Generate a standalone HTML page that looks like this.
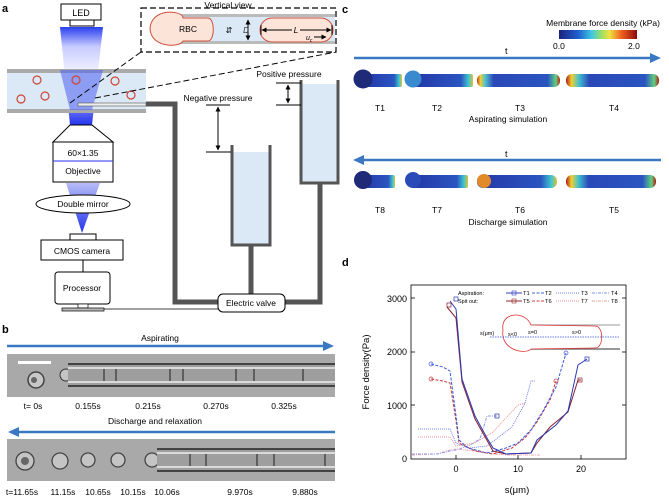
<!DOCTYPE html>
<html><head><meta charset="utf-8"><style>
html,body{margin:0;padding:0;background:#fff}
svg{display:block;font-family:"Liberation Sans",sans-serif}
</style></head><body>
<svg width="669" height="497" viewBox="0 0 669 497" xmlns="http://www.w3.org/2000/svg">
<defs>
<linearGradient id="beam" x1="0" y1="0" x2="0" y2="1">
<stop offset="0" stop-color="#2a3ff0"/><stop offset="0.2" stop-color="#c8ccff"/><stop offset="0.45" stop-color="#f0f0ff"/><stop offset="0.75" stop-color="#8f95f5"/><stop offset="1" stop-color="#2233ee"/></linearGradient>
<linearGradient id="beam2" x1="0" y1="0" x2="0" y2="1">
<stop offset="0" stop-color="#b8bcf8"/><stop offset="1" stop-color="#2233ee"/></linearGradient>
<linearGradient id="cbar" x1="0" y1="0" x2="1" y2="0">
<stop offset="0" stop-color="#1a237e"/><stop offset="0.25" stop-color="#2060d0"/><stop offset="0.42" stop-color="#40c8e0"/><stop offset="0.55" stop-color="#a0e060"/><stop offset="0.65" stop-color="#f0e040"/><stop offset="0.8" stop-color="#f06020"/><stop offset="1" stop-color="#8b0a0a"/></linearGradient>
<linearGradient id="tubeA" x1="0" y1="0" x2="1" y2="0">
<stop offset="0" stop-color="#2336a8"/><stop offset="0.8" stop-color="#2a55c0"/><stop offset="0.93" stop-color="#40c8d0"/><stop offset="1" stop-color="#e0c030"/></linearGradient>
<linearGradient id="tubeB" x1="0" y1="0" x2="1" y2="0">
<stop offset="0" stop-color="#c03018"/><stop offset="0.04" stop-color="#f0d030"/><stop offset="0.1" stop-color="#50c0d0"/><stop offset="0.2" stop-color="#2a48b8"/><stop offset="0.85" stop-color="#2a55c0"/><stop offset="0.95" stop-color="#60d080"/><stop offset="1" stop-color="#c02010"/></linearGradient>
<linearGradient id="tubeC" x1="0" y1="0" x2="1" y2="0">
<stop offset="0" stop-color="#b01810"/><stop offset="0.06" stop-color="#f0d030"/><stop offset="0.14" stop-color="#40c0d0"/><stop offset="0.25" stop-color="#2a48b8"/><stop offset="0.85" stop-color="#2a55c0"/><stop offset="0.95" stop-color="#60d080"/><stop offset="1" stop-color="#b01810"/></linearGradient>
<marker id="ah" viewBox="0 0 10 10" refX="9" refY="5" markerWidth="5" markerHeight="5" orient="auto-start-reverse"><path d="M0,0L10,5L0,10z" fill="#000"/></marker>
</defs>

<!-- ========== panel a ========== -->
<text x="2" y="12" font-size="11" font-weight="bold">a</text>
<path d="M60,27 L103,27 L92,125 L70,125 Z" fill="url(#beam)"/>
<rect x="7" y="70" width="139" height="42" fill="#dbe8f5"/>
<rect x="7" y="69" width="139" height="4" fill="#aaa"/>
<rect x="7" y="109" width="139" height="4" fill="#aaa"/>
<path d="M60,70 L103,70 L92,110 L70,110 Z" fill="#4a5ef0" opacity="0.55"/>
<g fill="none" stroke="#d04535" stroke-width="1.2">
<circle cx="37" cy="80" r="4"/><circle cx="76" cy="80" r="4"/><circle cx="115" cy="81" r="4"/>
<circle cx="21" cy="99" r="4"/><circle cx="45" cy="96" r="4"/><circle cx="131" cy="95" r="4"/></g>
<rect x="78" y="103" width="68" height="3" fill="#eee" stroke="#555" stroke-width="0.6"/>
<rect x="61" y="4" width="40" height="16" fill="#fff" stroke="#000"/>
<text x="81" y="16" font-size="9" text-anchor="middle">LED</text>
<rect x="70" y="20" width="24" height="6" fill="#fff" stroke="#000"/>
<path d="M70,125 L92,125 L113,142 L53,142 Z" fill="#fff" stroke="#000"/>
<rect x="53" y="142" width="60" height="40" fill="#fff" stroke="#000"/>
<line x1="53" y1="161" x2="113" y2="161" stroke="#2233ee"/>
<text x="83" y="156" font-size="8.5" text-anchor="middle">60×1.35</text>
<text x="83" y="174" font-size="8.5" text-anchor="middle">Objective</text>
<path d="M66,183 L100,183 L82,233 Z" fill="url(#beam2)"/>
<ellipse cx="83" cy="204" rx="47" ry="9" fill="#fff" stroke="#000"/>
<text x="83" y="207" font-size="8.5" text-anchor="middle">Double mirror</text>
<rect x="70" y="234" width="26" height="6" fill="#fff" stroke="#000"/>
<rect x="41" y="240" width="82" height="20" fill="#fff" stroke="#000"/>
<text x="82" y="254" font-size="8.5" text-anchor="middle">CMOS camera</text>
<line x1="83" y1="260" x2="83" y2="272" stroke="#000"/>
<rect x="55" y="272" width="55" height="32" rx="3" fill="#fff" stroke="#000"/>
<text x="82" y="291" font-size="8.5" text-anchor="middle">Processor</text>
<rect x="78" y="304" width="10" height="4" fill="#fff" stroke="#000" stroke-width="0.7"/>
<rect x="62" y="308" width="42" height="3" fill="#bbb" stroke="#000" stroke-width="0.7"/>
<line x1="104" y1="309" x2="218" y2="309" stroke="#000" stroke-width="0.8"/>
<path d="M146,104 L175,104 L175,302 L218,302" fill="none" stroke="#555" stroke-width="5"/>
<path d="M285,302 L320,302 L320,183" fill="none" stroke="#555" stroke-width="5"/>
<line x1="251" y1="245" x2="251" y2="295" stroke="#555" stroke-width="5"/>
<rect x="218" y="294" width="67" height="18" rx="5" fill="#fff" stroke="#000"/>
<text x="251" y="306" font-size="8.5" text-anchor="middle">Electric valve</text>
<rect x="233" y="152" width="36" height="92" fill="#dbe8f5"/>
<path d="M232,145 L232,245 L270,245 L270,145" fill="none" stroke="#555" stroke-width="3"/>
<rect x="302" y="84" width="35" height="99" fill="#dbe8f5"/>
<path d="M301,80 L301,183 L338,183 L338,80" fill="none" stroke="#555" stroke-width="3"/>
<text x="218" y="101" font-size="8.5" text-anchor="middle">Negative pressure</text>
<line x1="206" y1="105" x2="230" y2="105" stroke="#000"/>
<line x1="206" y1="152" x2="231" y2="152" stroke="#000"/>
<line x1="218" y1="107" x2="218" y2="150" stroke="#000" marker-start="url(#ah)" marker-end="url(#ah)"/>
<text x="289" y="77" font-size="8.5" text-anchor="middle">Positive pressure</text>
<line x1="276" y1="83" x2="301" y2="83" stroke="#000"/>
<line x1="276" y1="105" x2="301" y2="105" stroke="#000"/>
<line x1="288" y1="85" x2="288" y2="103" stroke="#000" marker-start="url(#ah)" marker-end="url(#ah)"/>
<line x1="70" y1="103" x2="141" y2="52" stroke="#000" stroke-dasharray="6,3"/>
<line x1="95" y1="98" x2="336" y2="52" stroke="#000" stroke-dasharray="6,3"/>
<rect x="141" y="8" width="195" height="44" fill="#fff" stroke="#000" stroke-width="1.2" stroke-dasharray="6,3"/>
<text x="228" y="8" font-size="8.5" text-anchor="middle">Vertical view</text>
<rect x="178" y="17" width="157" height="24" fill="#dbe8f5"/>
<rect x="178" y="14" width="157" height="3" fill="#bbb"/>
<rect x="178" y="41" width="157" height="3" fill="#bbb"/>
<path d="M183,18 L183,17 C180,10 152,8 150,28 C150,48 180,48 183,41 L208,41 C215,41 215,18 208,18 Z" fill="#fde4d8" stroke="#d0503e" stroke-width="1"/>
<text x="188" y="32" font-size="8.5" text-anchor="middle">RBC</text>
<rect x="260" y="18" width="73" height="24" rx="12" fill="#fde4d8" stroke="#d0503e"/>
<text x="229" y="33" font-size="8" text-anchor="middle">⇵</text>
<line x1="248" y1="20" x2="248" y2="40" stroke="#000" marker-start="url(#ah)" marker-end="url(#ah)"/>
<text x="246" y="33" font-size="8" font-style="italic" text-anchor="middle" fill="#333">D</text>
<line x1="262" y1="30" x2="331" y2="30" stroke="#000" marker-start="url(#ah)" marker-end="url(#ah)"/>
<rect x="292" y="25" width="8" height="10" fill="#fde4d8"/>
<text x="296" y="33" font-size="8.5" font-style="italic" text-anchor="middle">L</text>
<text x="306" y="40" font-size="7" font-style="italic">u<tspan font-size="5" dy="2">c</tspan></text>
<line x1="314" y1="37" x2="326" y2="37" stroke="#000" marker-end="url(#ah)"/>
<line x1="261" y1="25" x2="261" y2="35" stroke="#000"/><line x1="332" y1="25" x2="332" y2="35" stroke="#000"/>

<!-- ========== panel b ========== -->
<text x="2" y="333" font-size="11" font-weight="bold">b</text>
<text x="160" y="341" font-size="8.5" text-anchor="middle">Aspirating</text>
<line x1="7" y1="346" x2="325" y2="346" stroke="#3a78c2" stroke-width="2.5"/>
<path d="M323,341 L334,346 L323,351 Z" fill="#3a78c2"/>
<rect x="7" y="354" width="328" height="43" fill="#a9a9a9"/>
<circle cx="36" cy="380" r="8" fill="#c8c8c8" stroke="#444" stroke-width="1.5"/>
<circle cx="34" cy="380" r="3" fill="#666"/>
<rect x="18" y="361" width="33" height="3" fill="#fff"/>
<circle cx="66" cy="375" r="6" fill="#c4c4c4" stroke="#333"/>
<rect x="68" y="364" width="267" height="22" fill="#9e9e9e"/>
<line x1="68" y1="364" x2="335" y2="364" stroke="#222" stroke-width="1.5"/>
<line x1="68" y1="386" x2="335" y2="386" stroke="#222" stroke-width="1.5"/>
<line x1="68" y1="368" x2="335" y2="368" stroke="#eee" stroke-width="1.5"/>
<line x1="68" y1="382" x2="335" y2="382" stroke="#eee" stroke-width="1.5"/>
<g stroke="#333" stroke-width="1.2"><line x1="104" y1="369" x2="104" y2="381"/><line x1="116" y1="369" x2="116" y2="381"/><line x1="170" y1="369" x2="170" y2="381"/><line x1="183" y1="369" x2="183" y2="381"/><line x1="236" y1="369" x2="236" y2="381"/><line x1="254" y1="369" x2="254" y2="381"/><line x1="303" y1="369" x2="303" y2="381"/></g>
<g font-size="8.5" text-anchor="middle"><text x="33" y="409">t= 0s</text><text x="88" y="409">0.155s</text><text x="148" y="409">0.215s</text><text x="216" y="409">0.270s</text><text x="284" y="409">0.325s</text></g>
<text x="155" y="424" font-size="8.5" text-anchor="middle">Discharge and relaxation</text>
<line x1="17" y1="432" x2="335" y2="432" stroke="#3a78c2" stroke-width="2.5"/>
<path d="M19,427 L8,432 L19,437 Z" fill="#3a78c2"/>
<rect x="7" y="439" width="328" height="42" fill="#a9a9a9"/>
<g fill="#c4c4c4" stroke="#444" stroke-width="1.3"><circle cx="25" cy="461" r="9"/><circle cx="60" cy="461" r="8"/><circle cx="88" cy="460" r="7"/><circle cx="118" cy="460" r="7"/><circle cx="152" cy="460" r="7"/></g>
<circle cx="25" cy="461" r="4" fill="#666"/>
<rect x="157" y="449" width="178" height="22" fill="#9e9e9e"/>
<line x1="157" y1="449" x2="335" y2="449" stroke="#222" stroke-width="1.5"/>
<line x1="157" y1="471" x2="335" y2="471" stroke="#222" stroke-width="1.5"/>
<line x1="157" y1="453" x2="335" y2="453" stroke="#eee" stroke-width="1.5"/>
<line x1="157" y1="467" x2="335" y2="467" stroke="#eee" stroke-width="1.5"/>
<g stroke="#333" stroke-width="1.2"><line x1="190" y1="454" x2="190" y2="466"/><line x1="206" y1="454" x2="206" y2="466"/><line x1="257" y1="454" x2="257" y2="466"/><line x1="274" y1="454" x2="274" y2="466"/><line x1="325" y1="454" x2="325" y2="466"/></g>
<g font-size="8.5" text-anchor="middle"><text x="22" y="495">t=11.65s</text><text x="63" y="495">11.15s</text><text x="98" y="495">10.65s</text><text x="133" y="495">10.15s</text><text x="167" y="495">10.06s</text><text x="240" y="495">9.970s</text><text x="305" y="495">9.880s</text></g>

<!-- ========== panel c ========== -->
<text x="342" y="13" font-size="11" font-weight="bold">c</text>
<text x="660" y="26" font-size="8.5" text-anchor="end">Membrane force density (kPa)</text>
<rect x="559" y="30" width="78" height="9" fill="url(#cbar)"/>
<text x="553" y="49" font-size="8.5">0.0</text><text x="628" y="49" font-size="8.5">2.0</text>
<text x="505" y="54" font-size="9">t</text>
<line x1="354" y1="58" x2="652" y2="58" stroke="#3a78c2" stroke-width="2.5"/>
<path d="M650,53 L661,58 L650,63 Z" fill="#3a78c2"/>
<rect x="362" y="74" width="40" height="13" rx="2" fill="url(#tubeA)"/><circle cx="363" cy="79" r="9.5" fill="#1f2a78"/>
<rect x="412" y="74" width="61" height="13" rx="2" fill="url(#tubeA)"/><circle cx="413" cy="79" r="8.5" fill="#3a8ad0"/>
<rect x="477" y="74" width="83" height="13" rx="6" fill="url(#tubeB)"/>
<rect x="566" y="74" width="93" height="13" rx="6" fill="url(#tubeC)"/>
<g font-size="8.5" text-anchor="middle"><text x="380" y="111">T1</text><text x="437" y="111">T2</text><text x="520" y="111">T3</text><text x="614" y="111">T4</text></g>
<text x="508" y="122" font-size="8.5" text-anchor="middle">Aspirating simulation</text>
<text x="505" y="157" font-size="9">t</text>
<line x1="362" y1="160" x2="661" y2="160" stroke="#3a78c2" stroke-width="2.5"/>
<path d="M364,155 L353,160 L364,165 Z" fill="#3a78c2"/>
<rect x="362" y="175" width="33" height="13" rx="2" fill="url(#tubeA)"/><circle cx="363" cy="180" r="9" fill="#1f2a78"/>
<rect x="412" y="175" width="56" height="13" rx="2" fill="url(#tubeA)"/><circle cx="413" cy="180" r="8" fill="#2a4ab8"/>
<rect x="477" y="175" width="80" height="13" rx="6" fill="url(#tubeA)"/><circle cx="484" cy="181" r="7" fill="#e08a2a"/>
<rect x="566" y="175" width="90" height="13" rx="6" fill="url(#tubeC)"/>
<g font-size="8.5" text-anchor="middle"><text x="380" y="213">T8</text><text x="437" y="213">T7</text><text x="520" y="213">T6</text><text x="614" y="213">T5</text></g>
<text x="508" y="225" font-size="8.5" text-anchor="middle">Discharge simulation</text>

<!-- ========== panel d ========== -->
<text x="342" y="266" font-size="11" font-weight="bold">d</text>
<rect x="411" y="285" width="215" height="174" fill="none" stroke="#000" stroke-width="0.8"/>
<g font-size="9" text-anchor="end"><text x="407" y="302">3000</text><text x="407" y="355">2000</text><text x="407" y="409">1000</text><text x="407" y="462">0</text></g>
<g stroke="#000" stroke-width="0.8"><line x1="411" y1="298" x2="415" y2="298"/><line x1="411" y1="352" x2="415" y2="352"/><line x1="411" y1="405" x2="415" y2="405"/><line x1="456" y1="459" x2="456" y2="455"/><line x1="518" y1="459" x2="518" y2="455"/><line x1="581" y1="459" x2="581" y2="455"/>
<line x1="626" y1="298" x2="622" y2="298"/><line x1="626" y1="352" x2="622" y2="352"/><line x1="626" y1="405" x2="622" y2="405"/></g>
<g font-size="9" text-anchor="middle"><text x="456" y="472">0</text><text x="518" y="472">10</text><text x="581" y="472">20</text></g>
<text x="517" y="493" font-size="9.5" text-anchor="middle">s(μm)</text>
<text transform="translate(369,372) rotate(-90)" font-size="9.5" text-anchor="middle">Force density(Pa)</text>
<line x1="531" y1="325" x2="620" y2="325" stroke="#bbb" stroke-width="1.5"/>
<line x1="531" y1="349" x2="620" y2="349" stroke="#777" stroke-width="1.5"/>
<path d="M531,325 C525,310 500,312 503,330 C500,350 525,355 531,349 L595,348 C604,348 604,326 595,326 Z" fill="#fff" stroke="#e03030" stroke-width="0.8"/>
<line x1="490" y1="337" x2="620" y2="337" stroke="#3050e0" stroke-width="0.8" stroke-dasharray="1.5,1"/>
<g font-size="5.5"><text x="480" y="335">s(μm)</text><text x="508" y="336">s&lt;0</text><text x="528" y="334">s=0</text><text x="572" y="334">s&gt;0</text></g>
<g font-size="5.5"><text x="458" y="295">Aspiration:</text><text x="458" y="303">Spit out:</text></g>
<g font-size="5.8">
<line x1="506" y1="293" x2="522" y2="293" stroke="#3040c0"/><rect x="512" y="291" width="4" height="4" fill="none" stroke="#3040c0" stroke-width="0.6"/><text x="523" y="295">T1</text>
<line x1="532" y1="293" x2="544" y2="293" stroke="#4060e0" stroke-dasharray="3,1.5"/><text x="545" y="295">T2</text>
<line x1="556" y1="293" x2="580" y2="293" stroke="#7080f0" stroke-dasharray="1,1"/><text x="581" y="295">T3</text>
<line x1="592" y1="293" x2="610" y2="293" stroke="#8090f0" stroke-dasharray="3,1,1,1"/><text x="611" y="295">T4</text>
<line x1="506" y1="301" x2="522" y2="301" stroke="#902828"/><rect x="512" y="299" width="4" height="4" fill="none" stroke="#902828" stroke-width="0.6"/><text x="523" y="303">T5</text>
<line x1="532" y1="301" x2="544" y2="301" stroke="#d04040" stroke-dasharray="3,1.5"/><text x="545" y="303">T6</text>
<line x1="556" y1="301" x2="580" y2="301" stroke="#f09090" stroke-dasharray="1,1"/><text x="581" y="303">T7</text>
<line x1="592" y1="301" x2="610" y2="301" stroke="#f0a0a0" stroke-dasharray="3,1,1,1"/><text x="611" y="303">T8</text>
</g>
<g fill="none" stroke-width="1">
<polyline stroke="#f4a8b0" stroke-dasharray="3,1,1,1" points="412,455 437,454 450,450 456,449 475,451 493,454 510,455 540,455"/>
<polyline stroke="#8a98f0" stroke-dasharray="3,1,1,1" points="412,454 437,454 450,451 456,450 468,446 480,439 487,416 497,416"/>
<polyline stroke="#f39090" stroke-dasharray="1,1" points="418,437 450,437 456,446 475,443 493,432 518,405 525,403"/>
<polyline stroke="#7080f0" stroke-dasharray="1,1" points="418,429 450,429 456,443 469,448 487,446 512,427 525,403 531,381 535,381"/>
<polyline stroke="#d03838" stroke-dasharray="3,1.5" points="431,379 443,381 450,383 456,421 459,443 475,451 493,454 512,448 525,438 537,422 550,400 556,381"/>
<polyline stroke="#3858e0" stroke-dasharray="3,1.5" points="431,364 443,367 450,371 456,416 459,440 468,448 487,453 506,448 518,443 531,430 543,411 556,387 566,353"/>
<polyline stroke="#8a2030" points="447,307 456,318 462,382 475,419 493,451 506,454 531,453 537,443 550,427 568,412 578,380 581,380"/>
<polyline stroke="#2838b0" points="450,301 456,309 462,379 475,416 487,438 493,448 506,454 531,453 537,440 556,425 568,411 578,365 587,359"/>
</g>
<g fill="none" stroke-width="0.7">
<rect x="447" y="303" width="4" height="4" stroke="#8a2030"/><rect x="454" y="297" width="4" height="4" stroke="#2838b0"/><rect x="585" y="357" width="4" height="4" stroke="#2838b0"/><rect x="578" y="378" width="4" height="4" stroke="#8a2030"/><rect x="495" y="414" width="4" height="4" stroke="#2838b0"/>
<circle cx="566" cy="353" r="2" stroke="#3858e0"/><circle cx="556" cy="381" r="2" stroke="#d03838"/><circle cx="431" cy="364" r="2" stroke="#3858e0"/><circle cx="431" cy="379" r="2" stroke="#d03838"/>
</g>
</svg>
</body></html>
